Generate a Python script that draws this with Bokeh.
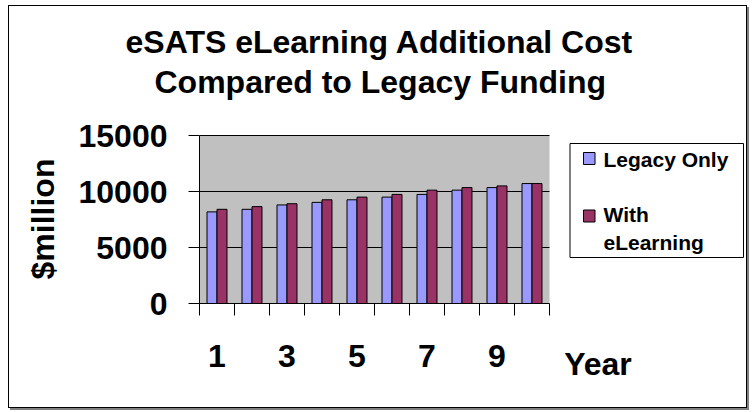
from bokeh.plotting import figure
from bokeh.models import (LinearAxis, Title, FixedTicker, Range1d, NumeralTickFormatter)
from bokeh.core.properties import value
from bokeh.embed import file_html
from bokeh.resources import INLINE

# ---- data ----
years = [1, 2, 3, 4, 5, 6, 7, 8, 9, 10]
legacy_only = [8180, 8410, 8800, 9030, 9260, 9500, 9740, 10120, 10350, 10710]
with_elearning = [8410, 8650, 8910, 9260, 9500, 9740, 10120, 10350, 10500, 10710]
x_label_years = [1, 3, 5, 7, 9]
y_ticks = [0, 5000, 10000, 15000]
title_lines = ["eSATS eLearning Additional Cost", "Compared to Legacy Funding"]
series_names = ["Legacy Only", "With", "eLearning"]
y_title = "$million"
x_title = "Year"

FONT = "Liberation Sans"
C_LEG = "#9999FF"
C_EL = "#993366"

# ---- layout (canvas sits at page offset OX, OY) ----
OX, OY = 9, 6
W, H = 739, 403
ML, MR, MT, MB = 190, 0, 128, 106
PPU = 35.0                                  # px per category
X_END = 0.5 + (W - ML - MR) / PPU
Y_PER_PX = y_ticks[-1] / 168.0
Y_END = (H - MT - MB) * Y_PER_PX

def X(px):   # page px -> data x
    return 0.5 + (px - OX - ML) / PPU

def Y(py):   # page px -> data y
    return (OY + H - MB - py) * Y_PER_PX

p = figure(width=W, height=H, x_range=Range1d(0.5, X_END), y_range=Range1d(0, Y_END),
           output_backend="svg", toolbar_location=None,
           min_border_left=ML, min_border_right=MR, min_border_top=MT, min_border_bottom=MB)
p.styles = {"margin-left": "8px", "margin-top": "5px",
            "border": "1px solid black", "box-shadow": "2px 2px 0px 0px #808080"}
p.background_fill_color = "white"
p.border_fill_color = "white"
p.outline_line_color = None
p.xgrid.visible = False
p.ygrid.visible = False

x_lo, x_hi = years[0] - 0.5, years[-1] + 0.5

# plot area, gridlines
p.quad(left=[x_lo], right=[x_hi], bottom=[y_ticks[0]], top=[y_ticks[-1]],
       fill_color="#C0C0C0", line_color=None)
p.segment(x0=[x_lo] * (len(y_ticks) - 1), x1=[x_hi] * (len(y_ticks) - 1),
          y0=y_ticks[1:], y1=y_ticks[1:], line_color="black", line_width=1)

# bars
bw = 0.2857
p.vbar(x=[v - bw / 2 for v in years], top=legacy_only, width=bw, bottom=0,
       fill_color=C_LEG, line_color="black", line_width=1)
p.vbar(x=[v + bw / 2 for v in years], top=with_elearning, width=bw, bottom=0,
       fill_color=C_EL, line_color="black", line_width=1)

# x axis: tick marks between categories, labels on odd years
xa = p.xaxis[0]
xa.bounds = (x_lo, x_hi)
xa.ticker = FixedTicker(ticks=x_label_years, minor_ticks=[v + 0.5 for v in [0] + years])
xa.major_label_overrides = {v: str(v) for v in x_label_years}
xa.major_tick_out = 0
xa.major_tick_in = 0
xa.minor_tick_out = 12
xa.minor_tick_in = 0
xa.minor_tick_line_color = "black"
xa.axis_line_color = "black"
xa.major_label_standoff = 29
xa.major_label_text_font = FONT
xa.major_label_text_font_style = "bold"
xa.major_label_text_font_size = "32px"
xa.major_label_text_color = "black"

# "Year" caption as a second, line-less axis
x_year = X(597.5)
xa2 = LinearAxis(ticker=FixedTicker(ticks=[x_year]), major_label_overrides={x_year: x_title})
xa2.major_tick_out = 0
xa2.major_tick_in = 0
xa2.minor_tick_line_color = None
xa2.axis_line_color = None
xa2.major_label_standoff = -24
xa2.major_label_text_font = FONT
xa2.major_label_text_font_style = "bold"
xa2.major_label_text_font_size = "32px"
xa2.major_label_text_color = "black"
p.add_layout(xa2, "below")

# y axis
ya = p.yaxis[0]
ya.bounds = (y_ticks[0], y_ticks[-1])
ya.ticker = FixedTicker(ticks=y_ticks)
ya.formatter = NumeralTickFormatter(format="0")
ya.major_tick_out = 11
ya.major_tick_in = 0
ya.minor_tick_line_color = None
ya.major_label_standoff = 21
ya.major_label_text_font = FONT
ya.major_label_text_font_style = "bold"
ya.major_label_text_font_size = "32px"
ya.major_label_text_color = "black"
ya.axis_line_color = "black"
ya.axis_label = y_title
ya.axis_label_text_font = FONT
ya.axis_label_text_font_style = "bold"
ya.axis_label_text_font_size = "32px"
ya.axis_label_text_color = "black"
ya.axis_label_standoff = 15

# titles (spacer first, so the two lines sit at the right height)
def mk_title(text, **kw):
    return Title(text=text, text_font=FONT, text_font_style="bold",
                 text_font_size="32px", text_color="black", align="left", **kw)

p.add_layout(Title(text=" ", text_font_size="1px", standoff=32), "above")
p.add_layout(mk_title(title_lines[1], offset=-45, standoff=0), "above")
p.add_layout(mk_title(title_lines[0], offset=-74, standoff=3), "above")

# legend
p.quad(left=[X(569.5)], right=[X(743)], top=[Y(143)], bottom=[Y(257)],
       fill_color="white", line_color="black", line_width=1)
p.quad(left=[X(583)] * 2, right=[X(594.5)] * 2, top=[Y(152), Y(209.5)],
       bottom=[Y(164), Y(221.5)], fill_color=[C_LEG, C_EL], line_color="black", line_width=1)
p.text(x=[X(603)] * 3, y=[Y(158.5), Y(213.5), Y(241.5)], text=series_names,
       text_font=value(FONT), text_font_style="bold", text_font_size="21px",
       text_color="black", text_align="left", text_baseline="alphabetic")

open("out.html", "w").write(file_html(p, INLINE))
